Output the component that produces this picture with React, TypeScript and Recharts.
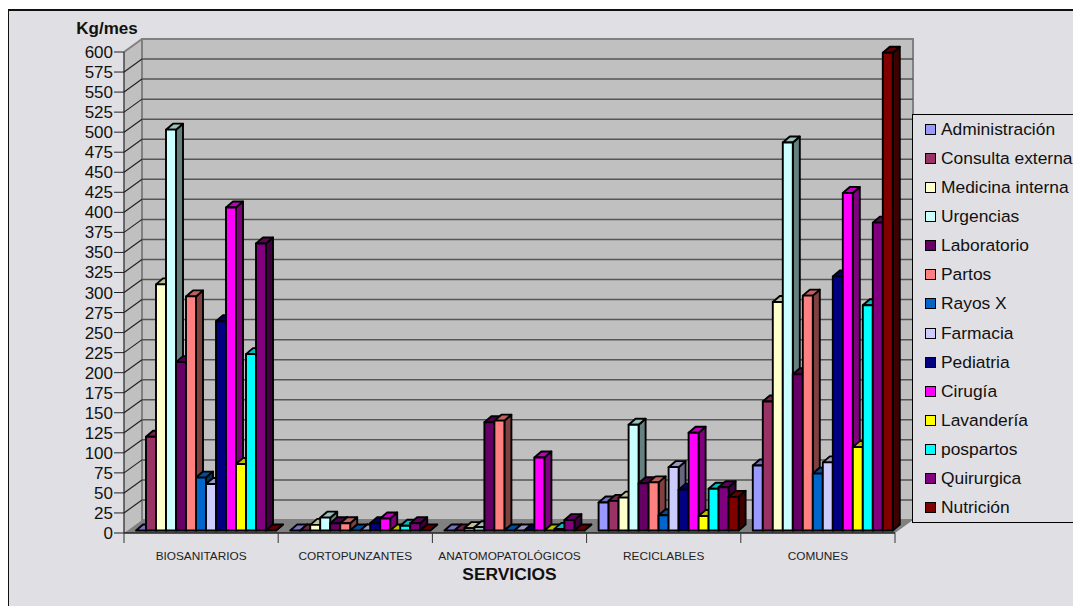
import { BarChart, Bar, XAxis, YAxis, CartesianGrid, Legend } from 'recharts'

const categories = ['BIOSANITARIOS', 'CORTOPUNZANTES', 'ANATOMOPATOLÓGICOS', 'RECICLABLES', 'COMUNES']
const yTicks = [0, 25, 50, 75, 100, 125, 150, 175, 200, 225, 250, 275, 300, 325, 350, 375, 400, 425, 450, 475, 500, 525, 550, 575, 600]

const administracion = [0, 0, 0, 35, 81]
const consultaExterna = [117, 0, 0, 37, 161]
const medicinaInterna = [307, 7, 3, 41, 285]
const urgencias = [500, 16, 4, 132, 484]
const laboratorio = [210, 9, 135, 59, 195]
const partos = [292, 9, 137, 60, 293]
const rayosX = [66, 0, 0, 19, 71]
const farmacia = [58, 0, 0, 79, 85]
const pediatria = [261, 9, 0, 51, 317]
const cirugia = [403, 15, 91, 122, 421]
const lavanderia = [83, 0, 0, 18, 104]
const pospartos = [220, 6, 2, 52, 281]
const quirurgica = [358, 9, 13, 54, 384]
const nutricion = [0, 0, 0, 42, 596]

const series = [
  { name: 'Administración', values: administracion, color: '#9999ff' },
  { name: 'Consulta externa', values: consultaExterna, color: '#993366' },
  { name: 'Medicina interna', values: medicinaInterna, color: '#ffffcc' },
  { name: 'Urgencias', values: urgencias, color: '#ccffff' },
  { name: 'Laboratorio', values: laboratorio, color: '#660066' },
  { name: 'Partos', values: partos, color: '#ff8080' },
  { name: 'Rayos X', values: rayosX, color: '#0066cc' },
  { name: 'Farmacia', values: farmacia, color: '#ccccff' },
  { name: 'Pediatria', values: pediatria, color: '#000080' },
  { name: 'Cirugía', values: cirugia, color: '#ff00ff' },
  { name: 'Lavandería', values: lavanderia, color: '#ffff00' },
  { name: 'pospartos', values: pospartos, color: '#00ffff' },
  { name: 'Quirurgica', values: quirurgica, color: '#800080' },
  { name: 'Nutrición', values: nutricion, color: '#800000' },
]

const chartData = categories.map((category, i) => {
  const row: Record<string, string | number> = { category }
  series.forEach((s) => {
    row[s.name] = s.values[i]
  })
  return row
})

const FONT = '"Liberation Sans", Arial, sans-serif'
const BG = '#e0dfe3'

// plot box and the 3D offset of the back wall
const LEFT = 124
const RIGHT = 895
const TOP = 52
const BOTTOM = 533
const WALL_DX = 18
const WALL_DY = 13
const BAND = (RIGHT - LEFT) / categories.length

function shade(hex: string, k: number) {
  const n = parseInt(hex.slice(1), 16)
  const c = (v: number) => Math.round(v * k)
  return `rgb(${c((n >> 16) & 255)},${c((n >> 8) & 255)},${c(n & 255)})`
}

// Bars stand in the middle of the floor, so everything is moved back a little
function Bar3D(props: any) {
  const { x, y, width, height, fill } = props
  const left = x + 5
  const top = y - 2.5
  const right = left + width
  const bottom = top + height
  const dx = 7
  const dy = 6
  const line = { stroke: '#000', strokeWidth: 1.9, strokeLinejoin: 'round' as const }
  return (
    <g>
      <polygon
        points={`${right},${top} ${right + dx},${top - dy} ${right + dx},${bottom - dy} ${right},${bottom}`}
        fill={shade(fill, 0.5)}
        {...line}
      />
      <polygon
        points={`${left},${top} ${left + dx},${top - dy} ${right + dx},${top - dy} ${right},${top}`}
        fill={shade(fill, 0.75)}
        {...line}
      />
      <rect x={left} y={top} width={width} height={height} fill={fill} {...line} />
    </g>
  )
}

// Side wall, back wall and floor sit under the transparent chart
function Walls() {
  return (
    <svg width={1073} height={606} style={{ position: 'absolute', left: 0, top: 0 }}>
      <polygon
        points={`${LEFT},${TOP} ${LEFT + WALL_DX},${TOP - WALL_DY} ${LEFT + WALL_DX},${BOTTOM - WALL_DY} ${LEFT},${BOTTOM}`}
        fill="#c0c0c0"
      />
      <rect
        x={LEFT + WALL_DX}
        y={TOP - WALL_DY}
        width={RIGHT - LEFT}
        height={BOTTOM - TOP}
        fill="#c0c0c0"
        stroke="#808080"
        strokeWidth={2}
      />
      <line x1={LEFT} y1={TOP} x2={LEFT + WALL_DX} y2={TOP - WALL_DY} stroke="#808080" strokeWidth={2} />
      <polygon
        points={`${LEFT},${BOTTOM} ${LEFT + WALL_DX},${BOTTOM - WALL_DY} ${RIGHT + WALL_DX},${BOTTOM - WALL_DY} ${RIGHT},${BOTTOM}`}
        fill="#808080"
      />
    </svg>
  )
}

// A gridline runs up the side wall and then along the back wall
function GridLine(props: any) {
  const { x1, x2, y1 } = props
  if (y1 >= BOTTOM - 1 || y1 <= TOP + 1) return <g />
  return (
    <g stroke="#555" fill="none">
      <line x1={x1} y1={y1} x2={x1 + WALL_DX} y2={y1 - WALL_DY} strokeWidth={1.2} stroke="#222" />
      <line x1={x1 + WALL_DX} y1={y1 - WALL_DY} x2={x2 + WALL_DX} y2={y1 - WALL_DY} strokeWidth={1.5} />
    </g>
  )
}

function CategoryTick(props: any) {
  const { x, y, payload, index } = props
  const boundary = (px: number) => (
    <line x1={px} y1={BOTTOM} x2={px} y2={BOTTOM + 10} stroke="#333" strokeWidth={1} />
  )
  return (
    <g>
      {boundary(x - BAND / 2)}
      {index === categories.length - 1 && boundary(x + BAND / 2)}
      <text x={x} y={y + 19} textAnchor="middle" fontFamily={FONT} fontSize={11.8} fill="#222">
        {payload.value}
      </text>
    </g>
  )
}

function LegendBox() {
  return (
    <div
      style={{
        width: 161,
        height: 409,
        boxSizing: 'border-box',
        background: BG,
        borderLeft: '1.5px solid #000',
        borderTop: '1.5px solid #000',
        borderBottom: '1.5px solid #000',
        fontFamily: FONT,
        fontSize: 17.4,
        color: '#111',
      }}
    >
      {series.map((s, i) => (
        <div
          key={s.name}
          style={{
            position: 'absolute',
            left: 13,
            top: 5 + i * 29.15,
            height: 20,
            display: 'flex',
            alignItems: 'center',
            whiteSpace: 'nowrap',
          }}
        >
          <span
            style={{
              width: 9,
              height: 9,
              background: s.color,
              border: '1.5px solid #000',
              marginRight: 5,
              flex: 'none',
            }}
          />
          {s.name}
        </div>
      ))}
    </div>
  )
}

export default function App() {
  return (
    <div style={{ position: 'absolute', left: 0, top: 0, width: 1073, height: 606, background: '#fff', overflow: 'hidden' }}>
      <div
        style={{
          position: 'absolute',
          left: 8,
          top: 9,
          right: 0,
          bottom: 0,
          background: BG,
          borderTop: '2px solid #111',
          borderLeft: '1.5px solid #111',
        }}
      />
      <Walls />
      <div style={{ position: 'absolute', left: 0, top: 0 }}>
        <BarChart
          width={1073}
          height={606}
          data={chartData}
          barSize={10}
          barGap={0}
          barCategoryGap={0}
          margin={{ top: TOP, right: 1073 - RIGHT, bottom: 33, left: LEFT - 60 }}
        >
          <CartesianGrid vertical={false} horizontal={GridLine} />
          <XAxis
            dataKey="category"
            height={40}
            axisLine={{ stroke: '#222', strokeWidth: 1.5 }}
            tickLine={false}
            interval={0}
            tick={CategoryTick}
            label={{
              value: 'SERVICIOS',
              position: 'insideBottom',
              offset: 0,
              dy: 7,
              fontFamily: FONT,
              fontSize: 17.4,
              fontWeight: 700,
              fill: '#111',
            }}
          />
          <YAxis
            width={60}
            domain={[0, 600]}
            ticks={yTicks}
            interval={0}
            axisLine={{ stroke: '#222', strokeWidth: 1.2 }}
            tickLine={{ stroke: '#222' }}
            tickSize={10}
            tickMargin={1}
            tick={{ fontFamily: FONT, fontSize: 17, fill: '#111' }}
            label={{
              value: 'Kg/mes',
              position: 'top',
              dx: 13,
              dy: -13,
              fontFamily: FONT,
              fontSize: 17,
              fontWeight: 700,
              fill: '#111',
            }}
          />
          {series.map((s) => (
            <Bar key={s.name} dataKey={s.name} fill={s.color} shape={Bar3D} isAnimationActive={false} />
          ))}
          <Legend
            layout="vertical"
            align="center"
            verticalAlign="middle"
            content={LegendBox}
            wrapperStyle={{ position: 'absolute', left: 912, top: 114, width: 161, height: 409, margin: 0 }}
          />
        </BarChart>
      </div>
    </div>
  )
}
